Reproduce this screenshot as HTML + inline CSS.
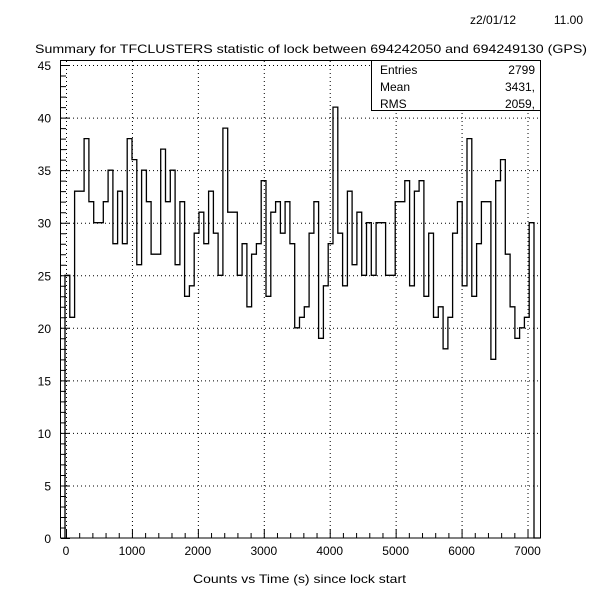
<!DOCTYPE html>
<html><head><meta charset="utf-8"><style>
html,body{margin:0;padding:0;background:#fff}
svg{display:block}
text{font-family:"Liberation Sans","DejaVu Sans",sans-serif;font-size:12px;fill:#000}
</style></head><body>
<svg id="s" width="600" height="600" viewBox="0 0 600 600" xmlns="http://www.w3.org/2000/svg">
<rect width="600" height="600" fill="#fff"/>
<text x="470" y="24">z2/01/12</text><text x="583" y="24" text-anchor="end">11.00</text>
<text x="35" y="53" textLength="552" lengthAdjust="spacingAndGlyphs">Summary for TFCLUSTERS statistic of lock between 694242050 and 694249130 (GPS)</text>
<g id="grid" stroke="#000" stroke-width="1" stroke-dasharray="1,3" fill="none"></g>
<g id="ticks" stroke="#000" stroke-width="1" fill="none"></g>
<path id="h" fill="none" stroke="#000" stroke-width="1.3"/>
<rect x="60.5" y="60.5" width="480" height="477.5" fill="none" stroke="#000" stroke-width="1"/>
<rect x="371.5" y="60.5" width="169" height="50" fill="#fff" stroke="#000" stroke-width="1"/>
<text x="380" y="74">Entries</text><text x="535" y="74" text-anchor="end">2799</text>
<text x="380" y="91">Mean</text><text x="535" y="91" text-anchor="end">3431,</text>
<text x="380" y="108">RMS</text><text x="535" y="108" text-anchor="end">2059,</text>
<g id="lab"></g>
<text x="193" y="583" textLength="213" lengthAdjust="spacingAndGlyphs">Counts vs Time (s) since lock start</text>
</svg>
<script>
const NS="http://www.w3.org/2000/svg";
function el(p,t,a,txt){const e=document.createElementNS(NS,t);for(const k in a)e.setAttribute(k,a[k]);if(txt!==undefined)e.textContent=txt;document.getElementById(p).appendChild(e);}
const Y=v=>538-10.51*v, X=t=>66+t*0.06593;
let d="";
for(let v=5;v<=45;v+=5)d+=`M61 ${Y(v)+.5}H540 `;
for(let t=0;t<=7000;t+=1000)d+=`M${X(t)+.5} 61V538 `;
el("grid","path",{d});
let tk="";
for(let v=0;v<=45;v++){const L=v%5==0?9:5;tk+=`M61 ${Y(v)+.5}h${L} `;}
for(let t=0;t<=7000;t+=200){const L=t%1000==0?9:5;tk+=`M${X(t)+.5} 538v-${L} `;}
el("ticks","path",{d:tk});
for(let v=0;v<=45;v+=5)el("lab","text",{x:51,y:Y(v)+5,"text-anchor":"end"},String(v));
for(let t=0;t<=7000;t+=1000)el("lab","text",{x:X(t),y:555,"text-anchor":"middle"},String(t));
const vals=[25,21,33,33,38,32,30,30,32,35,28,33,28,38,36,26,35,32,27,27,37,32,35,26,32,23,24,29,31,28,33,29,25,
39,31,31,25,28,22,27,28,34,23,31,32,29,32,28,20,21,22,29,32,19,24,28,41,29,24,33,26,31,25,30,25,
30,30,25,25,32,32,34,24,33,34,23,29,21,22,18,21,29,32,24,38,23,28,32,32,17,34,36,27,22,19,20,21,30];
const x0=65,w=(534-65)/vals.length;
let p=`M${x0} 538`;
vals.forEach((v,i)=>{p+=`V${Y(v).toFixed(1)}H${(x0+(i+1)*w).toFixed(1)}`;});
p+="V538H540";
document.getElementById("h").setAttribute("d",p);
</script>
</body></html>
